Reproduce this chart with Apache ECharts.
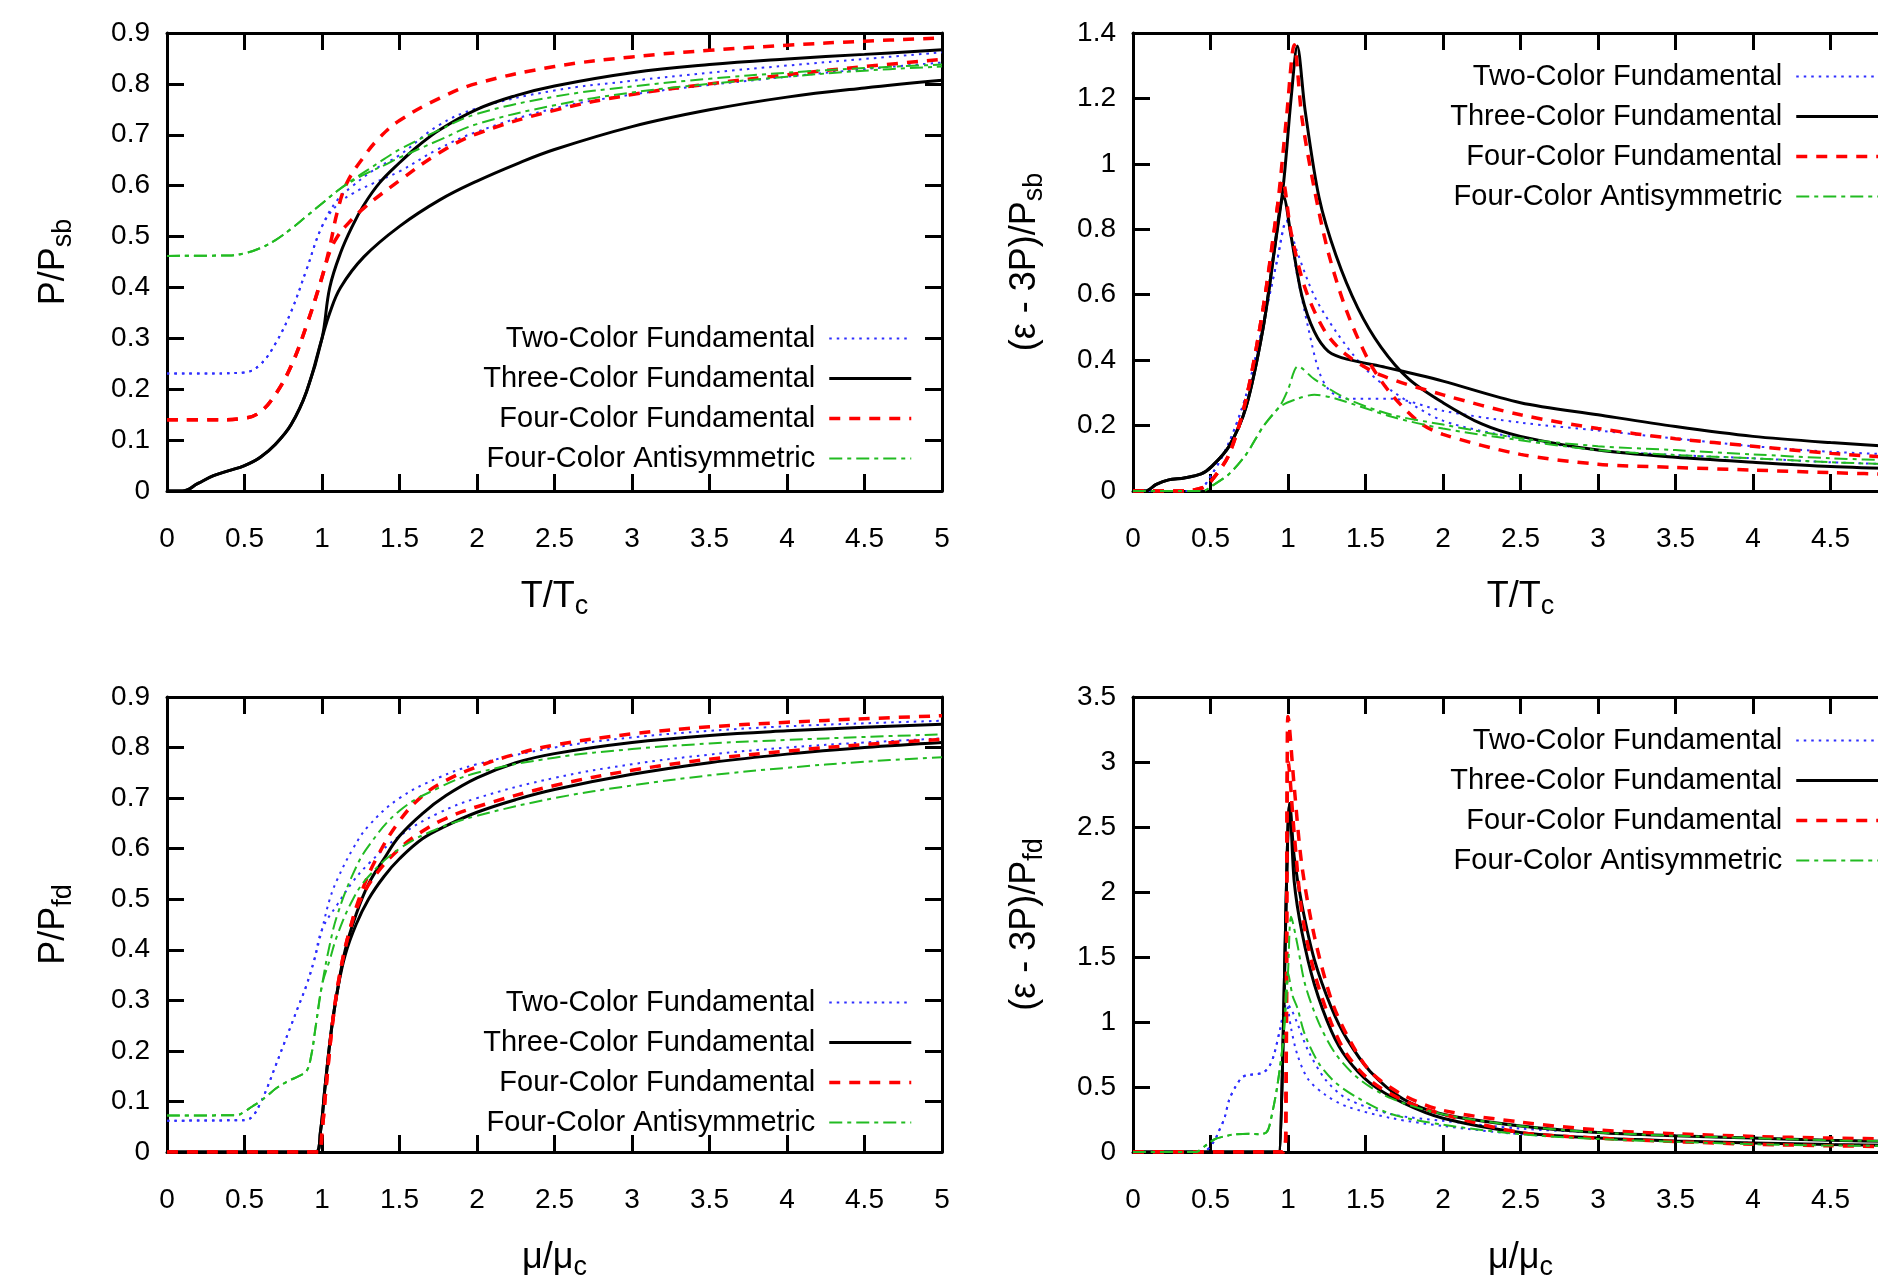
<!DOCTYPE html>
<html>
<head>
<meta charset="utf-8">
<script src="https://cdn.jsdelivr.net/npm/echarts@6/dist/echarts.min.js"></script>
<style>
html, body { margin: 0; padding: 0; background: #fff; overflow: hidden; }
#chart { width: 1960px; height: 1282px; }
</style>
</head>
<body>
<div id="chart"></div>
<script>
// legend names
var names = ['Two-Color Fundamental', 'Three-Color Fundamental', 'Four-Color Fundamental', 'Four-Color Antisymmetric'];

// axis ranges [min, max, step]
var xRange = [0, 5, 0.5];
var yRangeP = [0, 0.9, 0.1];
var yRangeSb = [0, 1.4, 0.2];
var yRangeFd = [0, 3.5, 0.5];

// ---- top left: P/Psb vs T/Tc ----
var tlTwoA = [[0,0.231],[0.3,0.231],[0.5,0.233],[0.6,0.248],[0.7,0.29],[0.8,0.352],[0.9,0.435],[1.0,0.52],[1.1,0.572],[1.2,0.6],[1.34,0.632],[1.5,0.66],[1.75,0.718],[2,0.752],[2.5,0.787],[3,0.806],[3.5,0.822],[4,0.836],[4.5,0.849],[5,0.862]];
var tlTwoB = [[0,0.231],[0.3,0.231],[0.5,0.233],[0.6,0.248],[0.7,0.29],[0.8,0.352],[0.9,0.435],[1.0,0.52],[1.1,0.563],[1.2,0.585],[1.34,0.606],[1.5,0.628],[1.75,0.672],[2,0.706],[2.5,0.752],[3,0.779],[3.5,0.798],[4,0.814],[4.5,0.829],[5,0.842]];
var tlThreeA = [[0,0],[0.1,0],[0.2,0.015],[0.3,0.03],[0.4,0.04],[0.5,0.05],[0.6,0.066],[0.7,0.092],[0.8,0.13],[0.9,0.195],[1.0,0.3],[1.05,0.4],[1.12,0.468],[1.2,0.523],[1.27,0.562],[1.37,0.605],[1.5,0.645],[1.62,0.678],[1.76,0.71],[2,0.75],[2.25,0.777],[2.5,0.796],[3,0.822],[3.5,0.838],[4,0.849],[4.5,0.858],[5,0.867]];
var tlThreeB = [[0,0],[0.1,0],[0.2,0.015],[0.3,0.03],[0.4,0.04],[0.5,0.05],[0.6,0.066],[0.7,0.092],[0.8,0.13],[0.9,0.195],[1.0,0.3],[1.05,0.35],[1.12,0.4],[1.27,0.46],[1.5,0.52],[1.76,0.572],[2,0.609],[2.25,0.642],[2.5,0.671],[3,0.716],[3.5,0.749],[4,0.774],[4.5,0.792],[5,0.807]];
var tlFourA = [[0,0.14],[0.3,0.14],[0.5,0.143],[0.6,0.155],[0.7,0.19],[0.8,0.245],[0.9,0.325],[1.0,0.42],[1.05,0.48],[1.1,0.55],[1.16,0.605],[1.27,0.657],[1.37,0.694],[1.5,0.728],[1.76,0.772],[2,0.801],[2.5,0.834],[3,0.853],[3.5,0.866],[4,0.876],[4.5,0.884],[5,0.89]];
var tlFourB = [[0,0.14],[0.3,0.14],[0.5,0.143],[0.6,0.155],[0.7,0.19],[0.8,0.245],[0.9,0.325],[1.0,0.42],[1.05,0.47],[1.1,0.5],[1.16,0.523],[1.27,0.556],[1.5,0.61],[1.76,0.665],[2,0.702],[2.5,0.748],[3,0.779],[3.5,0.8],[4,0.818],[4.5,0.834],[5,0.848]];
var tlAntiA = [[0,0.462],[0.4,0.463],[0.5,0.467],[0.6,0.477],[0.7,0.493],[0.8,0.515],[0.9,0.54],[1.0,0.565],[1.1,0.59],[1.2,0.612],[1.3,0.632],[1.4,0.652],[1.5,0.671],[1.76,0.71],[2,0.741],[2.5,0.775],[3,0.795],[3.5,0.81],[4,0.822],[4.5,0.831],[5,0.838]];
var tlAntiB = [[0,0.462],[0.4,0.463],[0.5,0.467],[0.6,0.477],[0.7,0.493],[0.8,0.515],[0.9,0.54],[1.0,0.565],[1.1,0.59],[1.2,0.61],[1.3,0.626],[1.4,0.64],[1.5,0.655],[1.76,0.69],[2,0.721],[2.5,0.758],[3,0.783],[3.5,0.8],[4,0.814],[4.5,0.826],[5,0.834]];

// ---- top right: (e-3P)/Psb vs T/Tc ----
var trTwoA = [[0,0],[0.41,0],[0.51,0.052],[0.62,0.149],[0.73,0.294],[0.84,0.511],[0.93,0.705],[0.99,0.826],[1.06,0.657],[1.13,0.5],[1.2,0.366],[1.27,0.306],[1.38,0.282],[1.67,0.282],[2,0.245],[2.5,0.209],[3,0.185],[3.5,0.16],[4,0.137],[4.5,0.12],[5,0.11]];
var trTwoB = [[0,0],[0.41,0],[0.51,0.052],[0.62,0.149],[0.73,0.294],[0.84,0.511],[0.93,0.705],[0.99,0.826],[1.06,0.73],[1.17,0.596],[1.31,0.487],[1.49,0.378],[1.67,0.306],[2,0.215],[2.5,0.161],[3,0.125],[3.5,0.11],[4,0.1],[4.5,0.088],[5,0.08]];
var trThreeA = [[0,0],[0.08,0],[0.15,0.02],[0.23,0.034],[0.33,0.04],[0.44,0.052],[0.51,0.076],[0.62,0.137],[0.73,0.258],[0.84,0.5],[0.91,0.73],[0.97,0.935],[1.02,1.2],[1.06,1.36],[1.11,1.165],[1.2,0.898],[1.31,0.72],[1.45,0.56],[1.6,0.44],[1.78,0.342],[2,0.27],[2.25,0.205],[2.5,0.167],[3,0.125],[3.5,0.103],[4,0.088],[4.5,0.075],[5,0.067]];
var trThreeB = [[0,0],[0.08,0],[0.15,0.02],[0.23,0.034],[0.33,0.04],[0.44,0.052],[0.51,0.076],[0.62,0.137],[0.73,0.258],[0.84,0.5],[0.91,0.73],[0.95,0.87],[0.97,0.9],[1.02,0.778],[1.09,0.596],[1.17,0.487],[1.26,0.427],[1.38,0.403],[1.63,0.378],[1.85,0.354],[2,0.336],[2.5,0.27],[3,0.233],[3.5,0.197],[4,0.167],[4.5,0.148],[5,0.133]];
var trFourA = [[0,0],[0.33,0],[0.45,0.01],[0.51,0.034],[0.62,0.112],[0.73,0.282],[0.84,0.56],[0.93,0.862],[0.99,1.14],[1.04,1.364],[1.09,1.14],[1.17,0.923],[1.26,0.729],[1.38,0.548],[1.53,0.39],[1.67,0.294],[1.85,0.209],[2,0.173],[2.5,0.112],[3,0.082],[3.5,0.072],[4,0.064],[4.5,0.056],[5,0.05]];
var trFourB = [[0,0],[0.33,0],[0.45,0.01],[0.51,0.034],[0.62,0.112],[0.73,0.282],[0.84,0.56],[0.93,0.862],[0.965,0.95],[1.02,0.79],[1.11,0.62],[1.24,0.487],[1.38,0.415],[1.6,0.354],[2,0.294],[2.5,0.233],[3,0.191],[3.5,0.16],[4,0.137],[4.5,0.115],[5,0.1]];
var trAntiA = [[0,0],[0.45,0],[0.51,0.016],[0.62,0.052],[0.73,0.112],[0.84,0.197],[0.95,0.262],[1.0,0.31],[1.065,0.381],[1.17,0.342],[1.38,0.282],[1.67,0.233],[2,0.203],[2.5,0.161],[3,0.137],[3.5,0.125],[4,0.112],[4.5,0.1],[5,0.092]];
var trAntiB = [[0,0],[0.45,0],[0.51,0.016],[0.62,0.052],[0.73,0.112],[0.84,0.197],[0.95,0.258],[1.06,0.282],[1.17,0.294],[1.31,0.282],[1.67,0.227],[2,0.191],[2.5,0.155],[3,0.125],[3.5,0.11],[4,0.1],[4.5,0.088],[5,0.08]];

// ---- bottom left: P/Pfd vs mu/muc ----
var blTwoA = [[0,0.062],[0.5,0.063],[0.55,0.07],[0.6,0.095],[0.65,0.13],[0.7,0.17],[0.75,0.21],[0.8,0.25],[0.85,0.29],[0.9,0.33],[0.95,0.38],[1.0,0.44],[1.05,0.5],[1.1,0.54],[1.2,0.6],[1.3,0.645],[1.5,0.7],[1.75,0.74],[2,0.767],[2.5,0.8],[3,0.82],[3.5,0.833],[4,0.842],[4.5,0.848],[5,0.853]];
var blTwoB = [[0,0.062],[0.5,0.063],[0.55,0.07],[0.6,0.095],[0.65,0.13],[0.7,0.17],[0.75,0.21],[0.8,0.25],[0.85,0.29],[0.9,0.33],[0.95,0.38],[1.0,0.44],[1.1,0.49],[1.2,0.535],[1.3,0.57],[1.5,0.625],[1.75,0.67],[2,0.7],[2.5,0.74],[3,0.767],[3.5,0.786],[4,0.8],[4.5,0.81],[5,0.818]];
var blThreeA = [[0,0],[0.96,0],[0.99,0.04],[1.02,0.13],[1.06,0.24],[1.1,0.32],[1.15,0.4],[1.22,0.47],[1.3,0.53],[1.4,0.58],[1.5,0.625],[1.65,0.67],[1.8,0.705],[2,0.74],[2.25,0.77],[2.5,0.788],[3,0.81],[3.5,0.824],[4,0.833],[4.5,0.84],[5,0.846]];
var blThreeB = [[0,0],[0.96,0],[0.99,0.04],[1.02,0.13],[1.06,0.24],[1.1,0.32],[1.15,0.39],[1.22,0.45],[1.3,0.5],[1.4,0.545],[1.5,0.58],[1.65,0.62],[1.8,0.645],[2,0.672],[2.25,0.697],[2.5,0.717],[3,0.747],[3.5,0.77],[4,0.787],[4.5,0.8],[5,0.81]];
var blFourA = [[0,0],[0.98,0],[1.0,0.04],[1.03,0.14],[1.07,0.26],[1.12,0.36],[1.18,0.44],[1.25,0.51],[1.35,0.58],[1.5,0.655],[1.65,0.705],[1.8,0.735],[2,0.762],[2.25,0.787],[2.5,0.805],[3,0.827],[3.5,0.841],[4,0.85],[4.5,0.857],[5,0.863]];
var blFourB = [[0,0],[0.98,0],[1.0,0.04],[1.03,0.14],[1.07,0.26],[1.12,0.36],[1.18,0.44],[1.25,0.5],[1.35,0.55],[1.5,0.6],[1.65,0.635],[1.8,0.66],[2,0.683],[2.5,0.725],[3,0.755],[3.5,0.777],[4,0.793],[4.5,0.806],[5,0.816]];
var blAntiA = [[0,0.072],[0.45,0.073],[0.5,0.08],[0.55,0.09],[0.6,0.1],[0.65,0.112],[0.7,0.125],[0.75,0.135],[0.8,0.143],[0.85,0.15],[0.9,0.16],[0.93,0.19],[0.96,0.25],[1.0,0.33],[1.05,0.41],[1.1,0.47],[1.2,0.55],[1.3,0.605],[1.5,0.675],[1.75,0.72],[2,0.75],[2.5,0.78],[3,0.797],[3.5,0.808],[4,0.815],[4.5,0.821],[5,0.826]];
var blAntiB = [[0,0.072],[0.45,0.073],[0.5,0.08],[0.55,0.09],[0.6,0.1],[0.65,0.112],[0.7,0.125],[0.75,0.135],[0.8,0.143],[0.85,0.15],[0.9,0.16],[0.93,0.19],[0.96,0.25],[1.0,0.33],[1.05,0.38],[1.1,0.43],[1.2,0.5],[1.3,0.545],[1.5,0.6],[1.75,0.64],[2,0.665],[2.5,0.7],[3,0.725],[3.5,0.745],[4,0.76],[4.5,0.772],[5,0.781]];

// ---- bottom right: (e-3P)/Pfd vs mu/muc ----
var brTwoA = [[0,0],[0.45,0],[0.52,0.076],[0.55,0.15],[0.59,0.26],[0.62,0.4],[0.66,0.5],[0.7,0.57],[0.73,0.59],[0.8,0.6],[0.84,0.61],[0.88,0.66],[0.91,0.75],[0.95,0.95],[0.99,1.14],[1.02,1.1],[1.06,0.99],[1.13,0.78],[1.24,0.56],[1.38,0.41],[1.67,0.29],[2,0.24],[2.5,0.18],[3,0.15],[3.5,0.125],[4,0.107],[4.5,0.09],[5,0.08]];
var brTwoB = [[0,0],[0.45,0],[0.52,0.076],[0.55,0.15],[0.59,0.26],[0.62,0.4],[0.66,0.5],[0.7,0.57],[0.73,0.59],[0.8,0.6],[0.84,0.61],[0.88,0.66],[0.91,0.75],[0.95,0.95],[0.99,1.14],[1.02,0.95],[1.06,0.75],[1.13,0.56],[1.24,0.44],[1.38,0.35],[1.67,0.26],[2,0.2],[2.5,0.137],[3,0.107],[3.5,0.085],[4,0.07],[4.5,0.058],[5,0.05]];
var brThreeA = [[0,0],[0.93,0],[0.94,0],[1.0,2.5],[1.01,2.68],[1.04,2.27],[1.09,1.9],[1.17,1.48],[1.28,1.11],[1.38,0.87],[1.53,0.62],[1.74,0.41],[2,0.29],[2.5,0.2],[3,0.15],[3.5,0.125],[4,0.107],[4.5,0.09],[5,0.08]];
var brThreeB = [[0,0],[0.93,0],[0.94,0],[1.0,2.5],[1.01,2.68],[1.04,2.08],[1.09,1.69],[1.17,1.29],[1.28,0.93],[1.38,0.72],[1.53,0.53],[1.74,0.38],[2,0.26],[2.5,0.15],[3,0.107],[3.5,0.085],[4,0.07],[4.5,0.058],[5,0.05]];
var brFourA = [[0,0],[0.96,0],[0.97,0],[0.985,0.1],[0.995,3.0],[1.0,3.35],[1.04,2.81],[1.09,2.2],[1.17,1.66],[1.28,1.17],[1.38,0.9],[1.53,0.62],[1.74,0.44],[2,0.32],[2.5,0.23],[3,0.17],[3.5,0.14],[4,0.12],[4.5,0.107],[5,0.1]];
var brFourB = [[0,0],[0.96,0],[0.97,0],[0.985,0.1],[0.995,2.8],[1.0,3.0],[1.04,2.45],[1.09,1.84],[1.17,1.38],[1.28,0.99],[1.38,0.75],[1.53,0.55],[1.74,0.4],[2,0.29],[2.5,0.15],[3,0.107],[3.5,0.08],[4,0.06],[4.5,0.048],[5,0.04]];
var brAntiA = [[0,0],[0.4,0],[0.48,0.06],[0.53,0.1],[0.59,0.12],[0.65,0.135],[0.75,0.14],[0.82,0.137],[0.86,0.15],[0.88,0.2],[0.93,0.5],[0.97,0.87],[1.0,1.38],[1.02,1.81],[1.06,1.6],[1.11,1.29],[1.2,0.99],[1.31,0.75],[1.46,0.56],[1.67,0.41],[2,0.29],[2.5,0.2],[3,0.15],[3.5,0.125],[4,0.107],[4.5,0.09],[5,0.082]];
var brAntiB = [[0,0],[0.4,0],[0.48,0.06],[0.53,0.1],[0.59,0.12],[0.65,0.135],[0.75,0.14],[0.82,0.137],[0.86,0.15],[0.88,0.2],[0.93,0.5],[0.97,0.87],[1.0,1.38],[1.03,1.2],[1.06,1.11],[1.11,0.9],[1.2,0.68],[1.31,0.53],[1.46,0.41],[1.67,0.29],[2,0.21],[2.5,0.137],[3,0.1],[3.5,0.078],[4,0.06],[4.5,0.05],[5,0.046]];

var fontFam = '"Liberation Sans", Arial, sans-serif';

// line looks, same order as names
var looks = [
    {color: '#2f2fff', width: 2, type: [2.5, 5]},
    {color: '#000000', width: 3, type: 'solid'},
    {color: '#ff0000', width: 3.5, type: [11, 9]},
    {color: '#22bb22', width: 2, type: [13, 5, 4, 5]}
];

var chart = echarts.init(document.getElementById('chart'));

// grid boxes in px
var boxes = [
    {left: 167, top: 33, width: 775, height: 458},
    {left: 1133, top: 33, width: 775, height: 458},
    {left: 167, top: 697, width: 775, height: 456},
    {left: 1133, top: 697, width: 775, height: 456}
];
var yRanges = [yRangeP, yRangeSb, yRangeP, yRangeFd];
var xNames = ['{m|T/T}{s|c}', '{m|T/T}{s|c}', '{m|\u03bc/\u03bc}{s|c}', '{m|\u03bc/\u03bc}{s|c}'];
var yNames = ['{m|P/P}{s|sb}', '{m|(\u03b5 - 3P)/P}{s|sb}', '{m|P/P}{s|fd}', '{m|(\u03b5 - 3P)/P}{s|fd}'];
var yNameGaps = [90, 85, 90, 85];
var legendTops = [319, 57, 983, 721];
var legendRights = [1042, 75, 1042, 75];

var nameRich = {
    m: {fontSize: 36, lineHeight: 46, fontFamily: fontFam, color: '#000'},
    s: {fontSize: 27, lineHeight: 18, verticalAlign: 'bottom', fontFamily: fontFam, color: '#000'}
};

var axisLineSty = {show: true, onZero: false, lineStyle: {color: '#000', width: 3}};
var tickSty = {show: true, inside: true, length: 17, lineStyle: {color: '#000', width: 3}};
var labelSty = {fontSize: 28, color: '#000', fontFamily: fontFam};

var legendItems = names.map(function (n, i) {
    return {name: n, lineStyle: {color: looks[i].color, width: looks[i].width, type: looks[i].type}};
});

var grids = [], xAxes = [], yAxes = [], legends = [], series = [];

for (var i = 0; i < 4; i++) {
    grids.push({left: boxes[i].left, top: boxes[i].top, width: boxes[i].width, height: boxes[i].height, containLabel: false});
    // bottom + top x axes
    xAxes.push({
        type: 'value', gridIndex: i, position: 'bottom',
        min: xRange[0], max: xRange[1], interval: xRange[2],
        axisLine: axisLineSty, axisTick: tickSty, splitLine: {show: false},
        axisLabel: Object.assign({margin: 34}, labelSty),
        name: xNames[i], nameLocation: 'middle', nameGap: 83,
        nameTextStyle: {rich: nameRich}
    });
    xAxes.push({
        type: 'value', gridIndex: i, position: 'top',
        min: xRange[0], max: xRange[1], interval: xRange[2],
        axisLine: axisLineSty, axisTick: tickSty, splitLine: {show: false},
        axisLabel: {show: false}
    });
    var yr = yRanges[i];
    yAxes.push({
        type: 'value', gridIndex: i, position: 'left',
        min: yr[0], max: yr[1], interval: yr[2],
        axisLine: axisLineSty, axisTick: tickSty, splitLine: {show: false},
        axisLabel: Object.assign({margin: 17}, labelSty),
        name: yNames[i], nameLocation: 'middle', nameRotate: 90, nameGap: yNameGaps[i],
        nameTextStyle: {rich: nameRich}
    });
    yAxes.push({
        type: 'value', gridIndex: i, position: 'right',
        min: yr[0], max: yr[1], interval: yr[2],
        axisLine: axisLineSty, axisTick: tickSty, splitLine: {show: false},
        axisLabel: {show: false}
    });
    legends.push({
        data: legendItems,
        orient: 'vertical', align: 'right',
        right: legendRights[i], top: legendTops[i],
        itemWidth: 82, itemHeight: 30, itemGap: 11,
        itemStyle: {opacity: 0},
        textStyle: {fontSize: 29, color: '#000', fontFamily: fontFam, padding: [0, 9, 0, 0]},
        selectedMode: false
    });
}

var panelData = [
    [tlTwoA, tlTwoB, tlThreeA, tlThreeB, tlFourA, tlFourB, tlAntiA, tlAntiB],
    [trTwoA, trTwoB, trThreeA, trThreeB, trFourA, trFourB, trAntiA, trAntiB],
    [blTwoA, blTwoB, blThreeA, blThreeB, blFourA, blFourB, blAntiA, blAntiB],
    [brTwoA, brTwoB, brThreeA, brThreeB, brFourA, brFourB, brAntiA, brAntiB]
];
var smoothAmt = [0.4, 0.3, 0.4, 0.3];

for (var p = 0; p < 4; p++) {
    for (var k = 0; k < 8; k++) {
        var n = Math.floor(k / 2);
        series.push({
            name: names[n],
            type: 'line',
            xAxisIndex: p * 2,
            yAxisIndex: p * 2,
            data: panelData[p][k],
            symbol: 'none',
            smooth: smoothAmt[p],
            clip: true,
            lineStyle: looks[n],
            itemStyle: {color: looks[n].color},
            z: 2 + n
        });
    }
}

chart.setOption({
    animation: false,
    backgroundColor: '#fff',
    grid: grids,
    xAxis: xAxes,
    yAxis: yAxes,
    legend: legends,
    series: series
});
</script>
</body>
</html>
